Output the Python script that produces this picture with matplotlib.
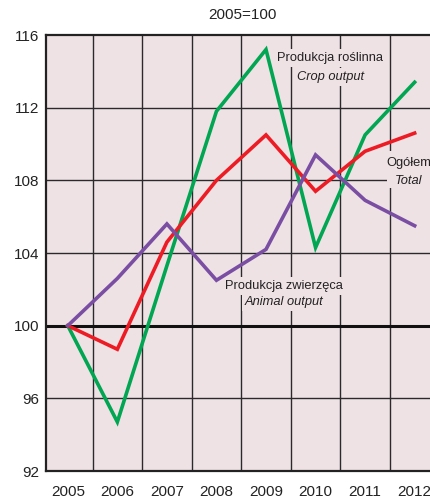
import matplotlib
matplotlib.use('Agg')
import matplotlib.pyplot as plt
from matplotlib.patches import Rectangle

plt.rcParams['font.family'] = ['Liberation Sans Narrow', 'Liberation Sans', 'DejaVu Sans']

# dane (2005=100)
years = ['2005', '2006', '2007', '2008', '2009', '2010', '2011', '2012']
crop = [100, 94.7, 103.3, 111.8, 115.2, 104.3, 110.5, 113.4]
total = [100, 98.7, 104.6, 108.0, 110.5, 107.4, 109.6, 110.6]
animal = [100, 102.6, 105.6, 102.5, 104.2, 109.4, 106.9, 105.5]
yticks = [92, 96, 100, 104, 108, 112, 116]

bg = '#efe2e5'
x = list(range(len(years)))

fig = plt.figure(figsize=(4.31, 4.98), dpi=100)
ax = fig.add_axes([46/431, 27/498, 1 - 46/431, 436/498])
ax.set_facecolor(bg)

ax.set_xlim(-0.44, 7.33)
ax.set_ylim(92, 116)

# siatka: pionowe linie pomiedzy latami
for g in [i + 0.5 for i in range(7)]:
	ax.axvline(g, color='#2a2a2a', lw=1.0, zorder=1)
for g in [96, 104, 108, 112]:
	ax.axhline(g, color='#2a2a2a', lw=1.0, zorder=1)
ax.axhline(100, color='#111111', lw=2.2, zorder=1.5)

ax.plot(x, crop, color='#00a651', lw=2.6, zorder=4, solid_joinstyle='miter')
ax.plot(x, total, color='#ed1c24', lw=2.6, zorder=4, solid_joinstyle='miter')
ax.plot(x, animal, color='#7a4fa3', lw=2.6, zorder=4, solid_joinstyle='miter')

# tlo pod opisem "Ogolem" zaslania siatke
ax.add_patch(Rectangle((6.45, 107.6), 1.0, 2.0, facecolor=bg, edgecolor='none', zorder=2.5))

fs = 9.3
box = dict(facecolor=bg, edgecolor='none', pad=2)
ax.text(5.3, 114.75, 'Produkcja roślinna', ha='center', va='center', fontsize=fs, color='#222222', zorder=3, bbox=box)
ax.text(5.3, 113.7, 'Crop output', ha='center', va='center', fontsize=fs, style='italic', color='#222222', zorder=3, bbox=box)
ax.text(6.88, 108.95, 'Ogółem', ha='center', va='center', fontsize=fs, color='#222222', zorder=3)
ax.text(6.88, 107.95, 'Total', ha='center', va='center', fontsize=fs, style='italic', color='#222222', zorder=3)
ax.text(4.37, 102.2, 'Produkcja zwierzęca', ha='center', va='center', fontsize=fs, color='#222222', zorder=3, bbox=box)
ax.text(4.37, 101.3, 'Animal output', ha='center', va='center', fontsize=fs, style='italic', color='#222222', zorder=3, bbox=box)

ax.set_xticks(x)
ax.set_xticklabels(years)
ax.set_yticks(yticks)
ax.tick_params(axis='both', length=0, labelsize=11, colors='#222222')
ax.tick_params(axis='x', pad=10)
ax.tick_params(axis='y', pad=5)

for s in ['left', 'bottom', 'top']:
	ax.spines[s].set_color('#222222')
	ax.spines[s].set_linewidth(1.6)
ax.spines['right'].set_visible(False)

fig.text(242/431, 1 - 15/498, '2005=100', ha='center', va='center', fontsize=11, color='#222222')

fig.savefig('out.png', dpi=100)
